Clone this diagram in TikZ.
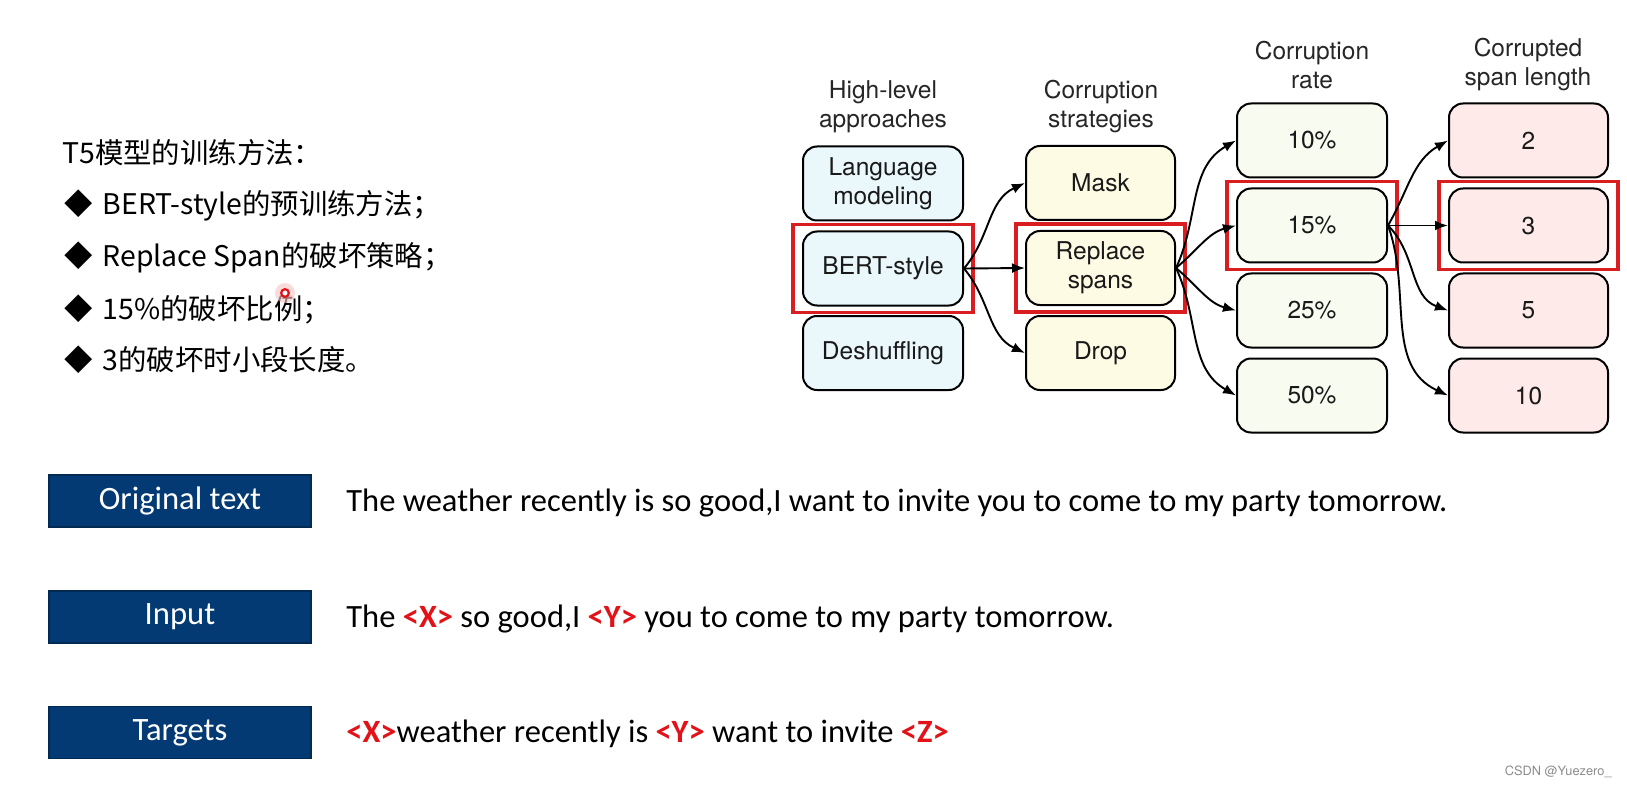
\documentclass[tikz,border=0pt]{standalone}
\usepackage{fontspec}
\usetikzlibrary{arrows.meta,fit}
\newfontfamily\cjkfont{Noto Sans CJK SC}
\newfontfamily\calfont{Carlito}
\newfontfamily\helvfont{TeX Gyre Heros}
\definecolor{cyanfill}{HTML}{EAF8FC}
\definecolor{yelfill}{HTML}{FDFBE4}
\definecolor{ratefill}{HTML}{F8FBEF}
\definecolor{spanfill}{HTML}{FDEAE9}
\definecolor{hired}{HTML}{D91E22}
\definecolor{navy}{RGB}{3,58,116}
\definecolor{tokred}{RGB}{226,18,24}
\newcommand\redtok[1]{\textcolor{tokred}{\bfseries #1}}
\tikzset{
  boxbase/.style={draw=black, line width=1pt, rounded corners=7pt, align=center,
    minimum height=37pt, inner sep=0pt, text=black!90,
    font=\helvfont\fontsize{12.25}{14.5}\selectfont},
  hlbox/.style={boxbase, fill=cyanfill, minimum width=80pt},
  csbox/.style={boxbase, fill=yelfill, minimum width=74.5pt},
  ratebox/.style={boxbase, fill=ratefill, minimum width=75pt},
  spanbox/.style={boxbase, fill=spanfill, minimum width=79.5pt},
  header/.style={align=center, text=black!85, font=\helvfont\fontsize{12.25}{14.5}\selectfont},
  redframe/.style={draw=hired, line width=1.6pt, inner xsep=4.5pt, inner ysep=3pt},
  arr/.style={-{Latex[length=6.5pt,width=5pt]}, line width=0.95pt, black},
  navybox/.style={fill=navy, draw=navy!70!black, line width=0.6pt, minimum width=131pt, minimum height=26pt,
    inner sep=0pt, text=white, font=\calfont\fontsize{16.3}{19}\selectfont},
  bodytext/.style={anchor=west, inner sep=0pt, font=\calfont\fontsize{16.25}{19}\selectfont, text=black},
  cjktext/.style={anchor=west, inner sep=0pt, font=\cjkfont\fontsize{14.2}{17}\selectfont, text=black}
}
\begin{document}
\begin{tikzpicture}[x=0.5pt,y=-0.5pt]
\useasboundingbox (0,0) rectangle (1627,786);
\fill[white] (0,0) rectangle (1627,786);

% left text
\node[cjktext] (t0) at (62,153) {T5模型的训练方法：};
\node[cjktext] (t1) at (64,205) {◆\hspace{5pt}BERT-style的预训练方法；};
\node[cjktext] (t2) at (64,257) {◆\hspace{5pt}Replace Span的破坏策略；};
\node[cjktext] (t3) at (64,309) {◆\hspace{5pt}15\%的破坏比例；};
\node[cjktext] (t4) at (64,360) {◆\hspace{5pt}3的破坏时小段长度。};
% cursor mark
\fill[tokred!25, opacity=0.6] (285,293) circle (5pt);
\draw[tokred, line width=1.1pt, fill=white] (285,293) circle (1.9pt);

% headers
\node[header] (h1) at (883,107) {High-level\\approaches};
\node[header] (h2) at (1101,107) {Corruption\\strategies};
\node[header] (h3) at (1312,65) {Corruption\\rate};
\node[header] (h4) at (1528,65) {Corrupted\\span length};

% column 1
\node[hlbox] (lm) at (883,183.5) {Language\\modeling};
\node[hlbox] (bert) at (883,268.5) {BERT-style};
\node[hlbox] (desh) at (883,353) {Deshuffling};
% column 2
\node[csbox] (mask) at (1100.5,183) {Mask};
\node[csbox] (rep) at (1100.5,268) {Replace\\spans};
\node[csbox] (drop) at (1100.5,353) {Drop};
% column 3
\node[ratebox] (r10) at (1312,140.5) {10\%};
\node[ratebox] (r15) at (1312,225.5) {15\%};
\node[ratebox] (r25) at (1312,310.5) {25\%};
\node[ratebox] (r50) at (1312,395.5) {50\%};
% column 4
\node[spanbox] (s2) at (1528.5,140.5) {2};
\node[spanbox] (s3) at (1528.5,225.5) {3};
\node[spanbox] (s5) at (1528.5,310.5) {5};
\node[spanbox] (s10) at (1528.5,395.5) {10};

% red highlight frames
\node[redframe, fit=(bert)] (f1) {};
\node[redframe, fit=(rep)] (f2) {};
\node[redframe, fit=(r15)] (f3) {};
\node[redframe, fit=(s3)] (f4) {};

% arrows
\draw[arr] (bert.east) to[out=50,in=205] (mask.west);
\draw[arr] (bert.east) -- (rep.west);
\draw[arr] (bert.east) to[out=-50,in=155] (drop.west);

\draw[arr] (rep.east) to[out=65,in=210] (r10.west);
\draw[arr] (rep.east) to[out=40,in=195] (r15.west);
\draw[arr] (rep.east) to[out=-40,in=165] (r25.west);
\draw[arr] (rep.east) to[out=-65,in=150] (r50.west);

\draw[arr] (r15.east) to[out=60,in=210] (s2.west);
\draw[arr] (r15.east) -- (s3.west);
\draw[arr] (r15.east) to[out=-45,in=160] (s5.west);
\draw[arr] (r15.east) to[out=-70,in=155] (s10.west);

% bottom section
\node[navybox] (ob) at (180,501) {Original text};
\node[navybox] (ib) at (180,617) {Input};
\node[navybox] (tb) at (180,732.5) {Targets};

\node[bodytext] (ot) at (346,503) {The weather recently is so good,I want to invite you to come to my party tomorrow.};
\node[bodytext] (it) at (346,619) {The \redtok{<X>} so good,I \redtok{<Y>} you to come to my party tomorrow.};
\node[bodytext] (tt) at (346,734) {\redtok{<X>}weather recently is \redtok{<Y>} want to invite \redtok{<Z>}};

% watermark
\node[anchor=east, inner sep=0pt, text=black!45, font=\helvfont\fontsize{6.4}{8}\selectfont] (wm) at (1612,772) {CSDN @Yuezero\_};
\end{tikzpicture}
\end{document}
